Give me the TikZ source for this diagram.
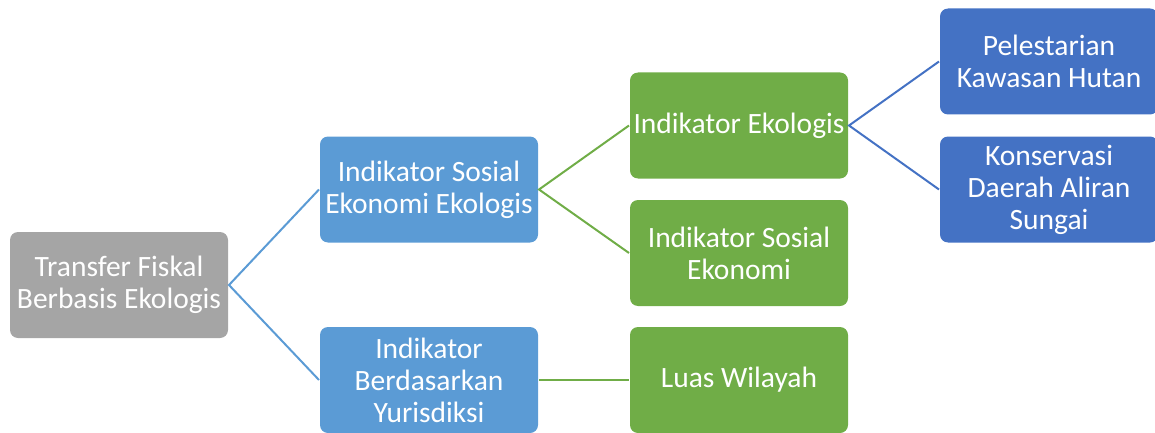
\documentclass[tikz,border=0pt]{standalone}
\usepackage{fontspec}
\setmainfont{Carlito}
\usetikzlibrary{positioning}

\definecolor{abu}{HTML}{A5A5A5}
\definecolor{biru}{HTML}{5B9BD5}
\definecolor{hijau}{HTML}{70AD47}
\definecolor{birutua}{HTML}{4472C4}

\begin{document}
\begin{tikzpicture}[x=1pt,y=-1pt,line width=2pt,
	kotak/.style={rounded corners=8pt,minimum width=218pt,minimum height=106pt,
		align=center,text=white,font=\fontsize{29.5}{32}\selectfont,inner sep=2pt},
	garis/.style={draw=#1,line width=2pt}]
		\useasboundingbox (0,0) rectangle (1155,433);
		% akar dan cabang pertama
		\node[kotak,fill=abu] (akar) at (119,285) {Transfer Fiskal\\Berbasis Ekologis};
		\node[kotak,fill=biru] (sosek) at (429,189.5) {Indikator Sosial\\Ekonomi Ekologis};
		\node[kotak,fill=biru] (yuris) at (429,380) {Indikator\\Berdasarkan\\Yurisdiksi};
		% indikator
		\node[kotak,fill=hijau] (ekol) at (739,125.5) {Indikator Ekologis};
		\node[kotak,fill=hijau] (sosial) at (739,253) {Indikator Sosial\\Ekonomi};
		\node[kotak,fill=hijau] (luas) at (739,380) {Luas Wilayah};
		\node[kotak,fill=birutua] (hutan) at (1049,61.5) {Pelestarian\\Kawasan Hutan};
		\node[kotak,fill=birutua] (das) at (1049,189.5) {Konservasi\\Daerah Aliran\\Sungai};

		\draw[garis=biru] (sosek.west) -- (akar.east) -- (yuris.west);
		\draw[garis=hijau] (ekol.west) -- (sosek.east) -- (sosial.west);
		\draw[garis=hijau] (yuris.east) -- (luas.west);
		\draw[garis=birutua] (hutan.west) -- (ekol.east) -- (das.west);
	\end{tikzpicture}
\end{document}
